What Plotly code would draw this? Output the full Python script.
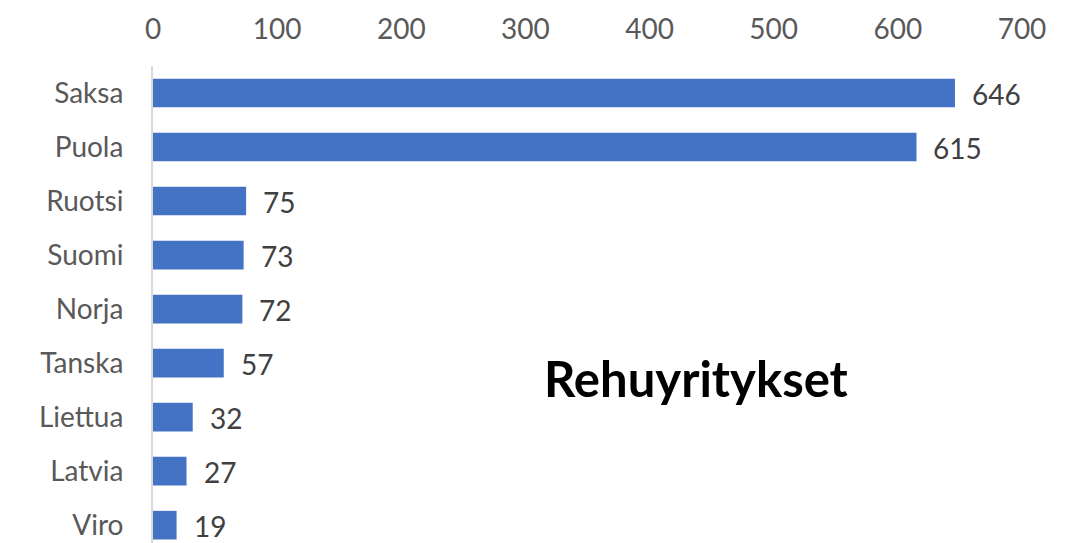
import plotly.graph_objects as go

countries = ["Saksa", "Puola", "Ruotsi", "Suomi", "Norja", "Tanska", "Liettua", "Latvia", "Viro"]
values = [646, 615, 75, 73, 72, 57, 32, 27, 19]
x_ticks = [0, 100, 200, 300, 400, 500, 600, 700]
title_text = "Rehuyritykset"

FONT = "Lato"

fig = go.Figure()
fig.add_trace(go.Bar(
    x=values, y=countries, orientation="h",
    marker=dict(color="#4472C4", line=dict(width=0)),
    hoverinfo="x+y",
))

for c, v in zip(countries, values):
    fig.add_annotation(x=v, y=c, text=str(v), showarrow=False,
                       xanchor="left", yanchor="middle", xshift=15, yshift=-1,
                       font=dict(family=FONT, size=28, color="#404040"))

fig.add_annotation(x=0.625, y=0.345, xref="paper", yref="paper", text="<b>" + title_text + "</b>",
                   showarrow=False, xanchor="center", yanchor="middle",
                   font=dict(family=FONT, size=49, color="#000000"))

fig.update_layout(
    width=1071, height=543,
    margin=dict(l=153, r=49, t=66, b=0),
    paper_bgcolor="white", plot_bgcolor="white",
    bargap=0.47, showlegend=False,
    xaxis=dict(side="top", range=[0, 700], tickvals=x_ticks, showgrid=False, zeroline=False,
               showline=False, ticks="", ticklabelstandoff=20, automargin=False,
               tickfont=dict(family=FONT, size=28, color="#595959")),
    yaxis=dict(categoryorder="array", categoryarray=countries, range=[8.33, -0.5],
               showgrid=False, zeroline=False, showline=True, linecolor="#D9D9D9", linewidth=2,
               ticks="", ticklabelstandoff=22, automargin=False,
               tickfont=dict(family=FONT, size=28, color="#595959")),
)

fig.write_html("out.html", config={"displayModeBar": False},
               post_script="document.body.style.margin='0';document.body.style.overflow='hidden';")
